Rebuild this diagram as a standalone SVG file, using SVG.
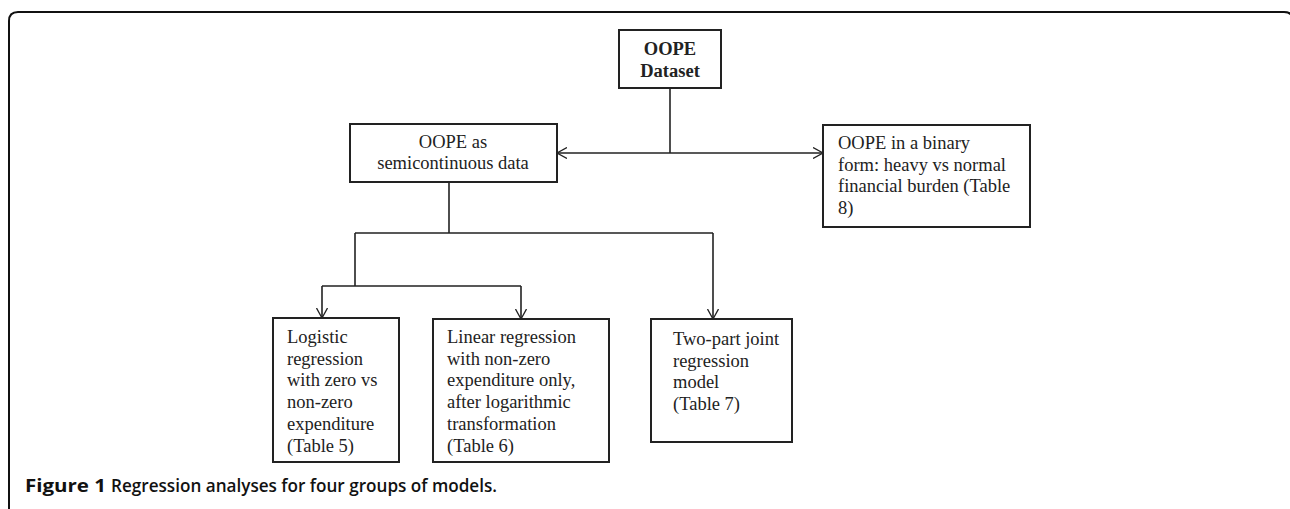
<svg xmlns="http://www.w3.org/2000/svg" width="1290" height="509" viewBox="0 0 1290 509">
<style>
.box{fill:#fff;stroke:#222;stroke-width:2}
.t{font-family:"Liberation Serif","Times New Roman",serif;font-size:18.5px;fill:#222}
.b{font-weight:bold}
.c{fill:none;stroke:#222;stroke-width:1.6}
.cap{font-family:"Open Sans","Noto Sans",sans-serif;font-size:17.5px;font-weight:bold;fill:#111}
</style>
<defs>
<marker id="arr" viewBox="0 0 10 12" refX="10" refY="6" markerWidth="10" markerHeight="12" markerUnits="userSpaceOnUse" orient="auto-start-reverse">
<path d="M0,0.5 L10,6 L0,11.5" fill="none" stroke="#222" stroke-width="1.3"/>
</marker>
</defs>
<rect width="1290" height="509" fill="#fff"/>
<path d="M9,515 V21 Q9,12 18,12 H1284 Q1293,12 1293,21 V515" fill="none" stroke="#111" stroke-width="2"/>
<g id="connectors">
<path class="c" d="M670,88 V153"/>
<path class="c" d="M557,153 H823" marker-start="url(#arr)" marker-end="url(#arr)"/>
<path class="c" d="M449,182 V233 M355,233 H713 M355,233 V286 M322,286 H521"/>
<path class="c" d="M322,286 V318" marker-end="url(#arr)"/>
<path class="c" d="M521,286 V319" marker-end="url(#arr)"/>
<path class="c" d="M713,233 V319" marker-end="url(#arr)"/>
</g>
<g id="dataset">
<rect class="box" x="619" y="30" width="102" height="58"/>
<text class="t b" x="670" y="55" text-anchor="middle">OOPE</text>
<text class="t b" x="670" y="76.5" text-anchor="middle">Dataset</text>
</g>
<g id="semicontinuous">
<rect class="box" x="350" y="124" width="207" height="58"/>
<text class="t" x="453" y="147.5" text-anchor="middle">OOPE as</text>
<text class="t" x="453" y="169" text-anchor="middle">semicontinuous data</text>
</g>
<g id="binary">
<rect class="box" x="823" y="125" width="207" height="102"/>
<text class="t" x="838" y="149">OOPE in a binary</text>
<text class="t" x="838" y="170.7">form: heavy vs normal</text>
<text class="t" x="838" y="192.4">financial burden (Table</text>
<text class="t" x="838" y="214">8)</text>
</g>
<g id="logistic">
<rect class="box" x="273" y="318" width="126" height="144"/>
<text class="t" x="287" y="343">Logistic</text>
<text class="t" x="287" y="364.7">regression</text>
<text class="t" x="287" y="386.4">with zero vs</text>
<text class="t" x="287" y="408">non-zero</text>
<text class="t" x="287" y="429.8">expenditure</text>
<text class="t" x="287" y="451.5">(Table 5)</text>
</g>
<g id="linear">
<rect class="box" x="433" y="319" width="176" height="143"/>
<text class="t" x="447" y="343">Linear regression</text>
<text class="t" x="447" y="364.7">with non-zero</text>
<text class="t" x="447" y="386.4">expenditure only,</text>
<text class="t" x="447" y="408">after logarithmic</text>
<text class="t" x="447" y="429.8">transformation</text>
<text class="t" x="447" y="451.5">(Table 6)</text>
</g>
<g id="twopart">
<rect class="box" x="651" y="319" width="141" height="123"/>
<text class="t" x="673" y="345">Two-part joint</text>
<text class="t" x="673" y="366.7">regression</text>
<text class="t" x="673" y="388.4">model</text>
<text class="t" x="673" y="410.1">(Table 7)</text>
</g>
<g id="caption">
<text class="cap" x="25" y="492" textLength="81" lengthAdjust="spacingAndGlyphs">Figure 1</text>
<text class="cap" x="111" y="492" textLength="386" lengthAdjust="spacingAndGlyphs" style="font-weight:600">Regression analyses for four groups of models.</text>
</g>
</svg>
